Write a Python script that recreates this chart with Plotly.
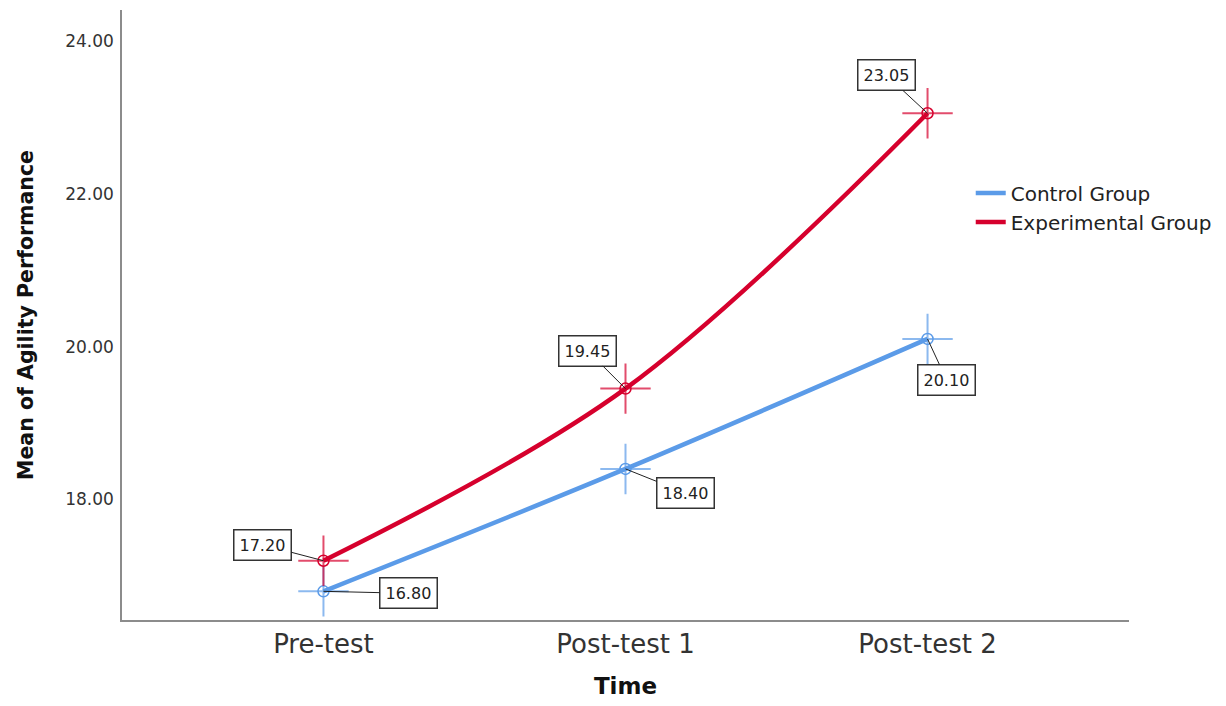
import plotly.graph_objects as go

time_points = ["Pre-test", "Post-test 1", "Post-test 2"]
control_means = [16.80, 18.40, 20.10]
experimental_means = [17.20, 19.45, 23.05]
y_tick_values = [18, 20, 22, 24]
y_tick_labels = ["18.00", "20.00", "22.00", "24.00"]

series = [
    ("Control Group", control_means, "#5b9be8", "rgba(91,155,232,0.7)"),
    ("Experimental Group", experimental_means, "#d6002d", "rgba(214,0,45,0.7)"),
]

# label box pixel offsets (style), per series, per point
label_offsets = {
    "Control Group": [(85, 2), (60, 24), (19, 41)],
    "Experimental Group": [(-61, -16), (-38, -38), (-41, -38)],
}

FONT = "DejaVu Sans, Arial, sans-serif"
fig = go.Figure()

for name, vals, col, col_a in series:
    fig.add_trace(go.Scatter(
        x=time_points, y=vals, mode="lines", name=name,
        line=dict(color=col, width=4.5, shape="spline", smoothing=1),
    ))
for name, vals, col, col_a in series:
    fig.add_trace(go.Scatter(
        x=time_points, y=vals, mode="markers", showlegend=False, hoverinfo="skip",
        marker=dict(symbol="cross-thin-open", size=36, color=col_a,
                    line=dict(color=col_a, width=2)),
    ))
    fig.add_trace(go.Scatter(
        x=time_points, y=vals, mode="markers", showlegend=False, hoverinfo="skip",
        marker=dict(symbol="circle-open", size=11, color=col,
                    line=dict(color=col, width=1.5)),
    ))

annotations = []
for name, vals, col, col_a in series:
    for xv, yv, (ax, ay) in zip(time_points, vals, label_offsets[name]):
        annotations.append(dict(
            x=xv, y=yv, xref="x", yref="y", text=f"{yv:.2f}",
            showarrow=True, arrowhead=0, arrowwidth=1, arrowcolor="#222222",
            ax=ax, ay=ay, standoff=0,
            bgcolor="white", bordercolor="#333333", borderwidth=1.5, borderpad=5,
            font=dict(family=FONT, size=16, color="#222222"),
        ))

fig.update_layout(
    width=1226, height=706,
    margin=dict(l=122, r=96, t=10, b=86),
    paper_bgcolor="white", plot_bgcolor="white",
    font=dict(family=FONT, color="#222222"),
    annotations=annotations,
    legend=dict(x=0.842, y=0.732, xanchor="left", yanchor="top",
                font=dict(family=FONT, size=20, color="#222222"),
                bgcolor="rgba(0,0,0,0)", tracegroupgap=0),
    xaxis=dict(
        type="category", range=[-0.667, 2.667],
        showline=True, linecolor="#8c8c8c", linewidth=1.5, mirror=False,
        showgrid=False, zeroline=False, ticks="",
        tickfont=dict(family=FONT, size=26, color="#333333"),
        title=dict(text="<b>Time</b>", font=dict(family=FONT, size=23, color="#111111"), standoff=20),
    ),
    yaxis=dict(
        range=[16.425, 24.40],
        tickvals=y_tick_values, ticktext=y_tick_labels,
        showline=True, linecolor="#8c8c8c", linewidth=1.5,
        showgrid=False, zeroline=False, ticks="outside", ticklen=3, tickcolor="rgba(0,0,0,0)",
        tickfont=dict(family=FONT, size=17, color="#333333"),
        title=dict(text="<b>Mean of Agility Performance</b>", font=dict(family=FONT, size=20.5, color="#111111"), standoff=26),
    ),
)

fig.write_html("out.html")
